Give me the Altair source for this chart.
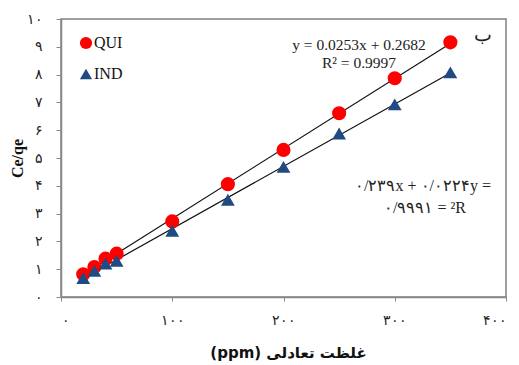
import altair as alt
import pandas as pd

# data
conc = [20, 30, 40, 50, 100, 150, 200, 250, 300, 350]
qui = [0.82, 1.08, 1.38, 1.56, 2.72, 4.06, 5.29, 6.61, 7.87, 9.16]
ind = [0.68, 0.94, 1.20, 1.30, 2.38, 3.50, 4.68, 5.88, 6.93, 8.08]
series_names = ["QUI", "IND"]
colors = ["#FF0000", "#1F4A82"]
shapes = ["circle", "triangle-up"]

eq_qui = ["y = 0.0253x + 0.2682", "R² = 0.9997"]
eq_ind = ["۰/۲۳۹x + ۰/۰۲۲۴y =", "۰/۹۹۹۱ = ²R"]
panel_tag = "ب"
x_title = "(ppm) غلظت تعادلی"
y_title = "Ce/qe"

rows = []
for c, q, i in zip(conc, qui, ind):
    rows.append({"x": c, "y": q, "s": "QUI"})
    rows.append({"x": c, "y": i, "s": "IND"})
df = pd.DataFrame(rows)

W, H = 445, 278
serif = "Liberation Serif, Times New Roman, DejaVu Serif"

xs = alt.Scale(domain=[0, 400], nice=False)
ys = alt.Scale(domain=[0, 10], nice=False)

x_axis = alt.Axis(
    values=[0, 100, 200, 300, 400], grid=False, tickSize=4, tickColor="#888888",
    domainColor="#888888", domainWidth=1.5, labelPadding=12, labelFontSize=14,
    labelColor="#222222", labelFont=serif, labelOverlap=False,
    labelExpr="datum.value == 0 ? '۰' : substring('۰۱۲۳۴', datum.value/100, datum.value/100+1) + '۰۰'",
    title=x_title, titleFontSize=15, titleFontWeight="bold", titleFont="DejaVu Sans, Noto Sans",
    titleX=227, titleY=55, titleAlign="center", titleBaseline="middle", titleColor="#111111",
)
y_axis = alt.Axis(
    values=list(range(0, 11)), grid=False, tickSize=5, tickColor="#888888",
    domainColor="#888888", domainWidth=1.5, labelPadding=14, labelFontSize=14,
    labelColor="#222222", labelFont=serif, labelOverlap=False,
    labelExpr="datum.value == 10 ? '۱۰' : substring('۰۱۲۳۴۵۶۷۸۹', datum.value, datum.value+1)",
    title=y_title, titleFontSize=16, titleFontWeight="bold", titleFont=serif,
    titleX=-44, titleY=139, titleAlign="center", titleBaseline="middle", titleAngle=-90,
    titleColor="#111111",
)

color_scale = alt.Scale(domain=series_names, range=colors)
shape_scale = alt.Scale(domain=series_names, range=shapes)

base = alt.Chart(df)

lines = base.transform_regression("x", "y", groupby=["s"], extent=[20, 350]).mark_line(
    color="#111111", strokeWidth=1.2
).encode(
    x=alt.X("x:Q", scale=xs, axis=x_axis),
    y=alt.Y("y:Q", scale=ys, axis=y_axis),
    detail="s:N",
)

pts = base.mark_point(filled=True, opacity=1).encode(
    x=alt.X("x:Q", scale=xs, axis=x_axis),
    y=alt.Y("y:Q", scale=ys, axis=y_axis),
    color=alt.Color("s:N", scale=color_scale, legend=None),
    shape=alt.Shape("s:N", scale=shape_scale, legend=None),
    size=alt.Size("s:N", scale=alt.Scale(domain=series_names, range=[200, 190]), legend=None),
    order=alt.Order("s:N", sort="descending"),
)

ann_df = pd.DataFrame({
    "t": eq_qui + eq_ind + [panel_tag],
    "px": [298, 298, 362, 364, 422],
    "py": [26, 44, 167, 189, 16],
    "fs": [15.5, 15.5, 16, 16, 19],
})
ann = alt.Chart(ann_df).mark_text(font=serif, color="#222222", align="center", baseline="middle").encode(
    text="t:N", x=alt.X("px:Q", scale=None, axis=None), y=alt.Y("py:Q", scale=None, axis=None),
    size=alt.Size("fs:Q", scale=None, legend=None),
)

leg_df = pd.DataFrame({"s": series_names, "px": [25, 25], "py": [24, 55]})
leg_sym = alt.Chart(leg_df).mark_point(filled=True, opacity=1, size=150).encode(
    x=alt.X("px:Q", scale=None, axis=None), y=alt.Y("py:Q", scale=None, axis=None),
    color=alt.Color("s:N", scale=color_scale, legend=None),
    shape=alt.Shape("s:N", scale=shape_scale, legend=None),
)
leg_txt = alt.Chart(leg_df).mark_text(font=serif, fontSize=16, align="left", baseline="middle",
                                      color="#111111", dx=8).encode(
    x=alt.X("px:Q", scale=None, axis=None), y=alt.Y("py:Q", scale=None, axis=None), text="s:N",
)

chart = alt.layer(lines, pts, ann, leg_sym, leg_txt).properties(
    width=W, height=H,
    padding={"left": 61, "top": 19, "right": 13, "bottom": 68},
    autosize=alt.AutoSizeParams(type="none"),
    background="white",
).configure_view(stroke="#808080", strokeWidth=1.5)

chart.save("out.html", embed_options={"renderer": "svg", "actions": False})
